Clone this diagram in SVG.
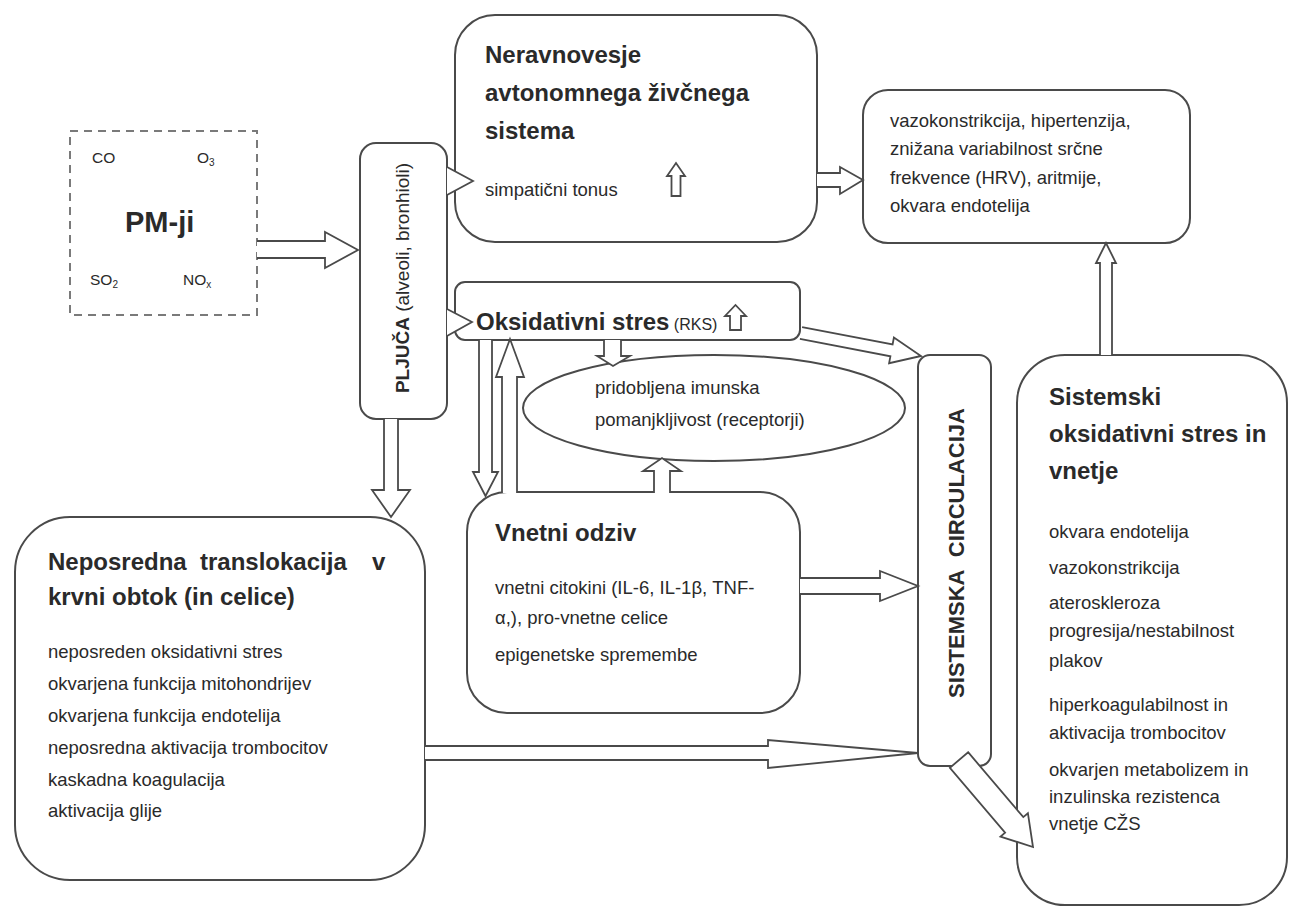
<svg xmlns="http://www.w3.org/2000/svg" width="1290" height="910" viewBox="0 0 1290 910">
<style>
.box{fill:#fff;stroke:#4a4a4a;stroke-width:2}
.arr{fill:#fff;stroke:#4a4a4a;stroke-width:1.8;stroke-linejoin:miter}
.t{font-family:"Liberation Sans",Arial,sans-serif;fill:#2a2a2a}
.body{font-size:18.5px}
.title{font-size:24px;font-weight:bold}
.small{font-size:15.5px}
</style>
<rect width="1290" height="910" fill="#fff"/>

<g id="pm">
<rect x="70" y="131" width="187" height="184" fill="#fff" stroke="#7a7a7a" stroke-width="2" stroke-dasharray="8,6"/>
<text class="t small" x="92" y="163">CO</text>
<text class="t small" x="197" y="163">O<tspan font-size="10" dy="3">3</tspan></text>
<text class="t" x="125" y="232" font-size="29" font-weight="bold">PM-ji</text>
<text class="t small" x="90" y="285">SO<tspan font-size="10" dy="3">2</tspan></text>
<text class="t small" x="183" y="285">NO<tspan font-size="10" dy="3">x</tspan></text>
</g>

<g id="pljuca">
<rect class="box" x="360" y="143" width="87" height="276" rx="16"/>
<text class="t" transform="translate(409,278) rotate(-90)" text-anchor="middle" font-size="19"><tspan font-weight="bold">PLJUČA</tspan> (alveoli, bronhioli)</text>
</g>

<g id="neravnovesje">
<rect class="box" x="455" y="15" width="362" height="227" rx="40"/>
<text class="t title" x="485" y="63">Neravnovesje</text>
<text class="t title" x="485" y="101">avtonomnega živčnega</text>
<text class="t title" x="485" y="139">sistema</text>
<text class="t body" x="485" y="196">simpatični tonus</text>
<path class="arr" d="M671.5,196 V176 H667 L676,163 L685,176 H680.5 V196 Z"/>
</g>

<g id="posledice">
<rect class="box" x="863" y="90" width="327" height="153" rx="25"/>
<text class="t body" x="890" y="127">vazokonstrikcija, hipertenzija,</text>
<text class="t body" x="890" y="155">znižana variabilnost srčne</text>
<text class="t body" x="890" y="184">frekvence (HRV), aritmije,</text>
<text class="t body" x="890" y="212">okvara endotelija</text>
</g>

<g id="oksidativni">
<rect class="box" x="455" y="282" width="345" height="58" rx="10"/>
<text class="t" x="476" y="330"><tspan class="title">Oksidativni stres</tspan><tspan font-size="16"> (RKS)</tspan></text>
<path class="arr" d="M730,330 V316 H725 L735.5,305 L746,316 H741 V330 Z"/>
</g>

<g id="imunska">
<ellipse class="box" cx="714" cy="408" rx="191" ry="53"/>
<text class="t body" x="595" y="394">pridobljena imunska</text>
<text class="t body" x="595" y="426">pomanjkljivost (receptorji)</text>
</g>

<g id="vnetni">
<rect class="box" x="467" y="492" width="333" height="221" rx="40"/>
<text class="t title" x="495" y="541">Vnetni odziv</text>
<text class="t body" x="495" y="594">vnetni citokini (IL-6, IL-1β, TNF-</text>
<text class="t body" x="495" y="624">α,), pro-vnetne celice</text>
<text class="t body" x="495" y="661">epigenetske spremembe</text>
</g>

<g id="translokacija">
<rect class="box" x="15" y="517" width="410" height="363" rx="55"/>
<text class="t title" x="48" y="570">Neposredna</text>
<text class="t title" x="200" y="570">translokacija</text>
<text class="t title" x="372" y="570">v</text>
<text class="t title" x="48" y="605">krvni obtok (in celice)</text>
<text class="t body" x="48" y="658">neposreden oksidativni stres</text>
<text class="t body" x="48" y="690">okvarjena funkcija mitohondrijev</text>
<text class="t body" x="48" y="722">okvarjena funkcija endotelija</text>
<text class="t body" x="48" y="754">neposredna aktivacija trombocitov</text>
<text class="t body" x="48" y="786">kaskadna koagulacija</text>
<text class="t body" x="48" y="817">aktivacija glije</text>
</g>

<g id="sistemska">
<rect class="box" x="918" y="355" width="73" height="411" rx="12"/>
<text class="t" transform="translate(964,553) rotate(-90)" text-anchor="middle" font-size="22" font-weight="bold" word-spacing="7">SISTEMSKA CIRCULACIJA</text>
</g>

<g id="sistemski">
<rect class="box" x="1017" y="355" width="270" height="550" rx="48"/>
<text class="t title" x="1049" y="405">Sistemski</text>
<text class="t title" x="1049" y="442">oksidativni stres in</text>
<text class="t title" x="1049" y="479">vnetje</text>
<text class="t body" x="1049" y="538">okvara endotelija</text>
<text class="t body" x="1049" y="574">vazokonstrikcija</text>
<text class="t body" x="1049" y="609">ateroskleroza</text>
<text class="t body" x="1049" y="637">progresija/nestabilnost</text>
<text class="t body" x="1049" y="667">plakov</text>
<text class="t body" x="1049" y="711">hiperkoagulabilnost in</text>
<text class="t body" x="1049" y="739">aktivacija trombocitov</text>
<text class="t body" x="1049" y="776">okvarjen metabolizem in</text>
<text class="t body" x="1049" y="803">inzulinska rezistenca</text>
<text class="t body" x="1049" y="830">vnetje CŽS</text>
</g>

<g id="connectors">
<path class="arr" d="M257,241 H325 V232 L358,250 L325,268 V258 H257"/>
<path class="arr" d="M447,167 L473,181 L447,195"/>
<path class="arr" d="M447,309 L472,322 L447,336"/>
<path class="arr" d="M817,173 H840 V167 L863,180 L840,194 V187 H817"/>
<path class="arr" d="M1100,355 V263 H1096 L1106,243 L1116,263 H1112 V355"/>
<path class="arr" d="M604,340 V356 H597 L613,366 L630,356 H621 V340"/>
<path class="arr" d="M654,493 V471 H643 L662,458 L681,471 H670 V493"/>
<path class="arr" d="M479,340 V472 H473 L485.5,496 L498,472 H492 V340"/>
<path class="arr" d="M502,493 V377 H496 L510,339 L524,377 H517 V493"/>
<path class="arr" d="M802.1,327.1 L892.6,344.5 L893.9,337.6 L921,356 L889.1,363.2 L890.4,356.3 L799.9,338.9"/>
<path class="arr" d="M800,578 H880 V571 L918,586 L880,601 V594 H800"/>
<path class="arr" d="M425,746 H768 V740 L918,753 L768,768 V760 H425"/>
<path class="arr" d="M384,419 V490 H372 L391,517 L410,490 H398 V419"/>
<path class="arr" d="M968.1,752.2 L1023.3,817.1 L1027.9,813.2 L1033,847 L1000.5,836.6 L1005.1,832.7 L949.9,767.8 Z"/>
</g>
</svg>
